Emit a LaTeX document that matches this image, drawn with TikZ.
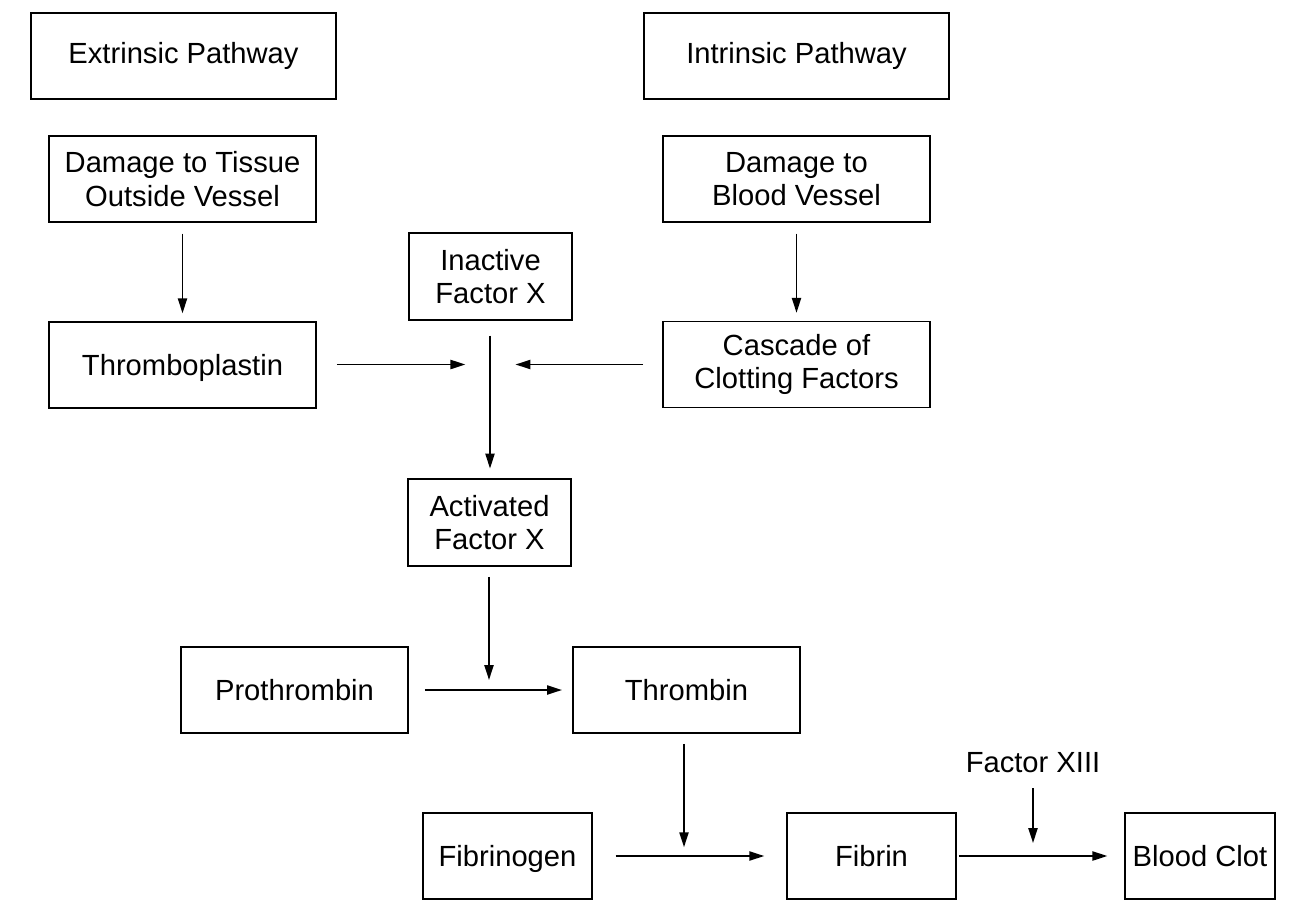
\documentclass[tikz,border=0pt]{standalone}
\usepackage{fontspec}
\setmainfont{Liberation Sans}
\usetikzlibrary{arrows.meta}
\tikzset{
    % Box styles
    stage/.style={
        rectangle,
        draw=black,
        fill=white,
        line width=0.9pt,
        minimum width=5.35cm,
        minimum height=1.72cm,
        align=center,
        font=\fontsize{16.6}{19}\selectfont
    },
    header/.style={
        stage,
        minimum width=6.1cm
    },
    factor/.style={
        stage,
        minimum width=3.25cm,
        minimum height=1.74cm
    },
    product/.style={
        stage,
        minimum width=4.55cm
    },
    small/.style={
        stage,
        minimum width=3.38cm
    },
    label/.style={
        font=\fontsize{16.6}{19}\selectfont
    },
    % Arrow style
    arrow/.style={
        -{Triangle[length=8.5pt,width=5.2pt]},
        line width=1pt,
        draw=black
    }
}
\begin{document}
\begin{tikzpicture}[x=0.02cm, y=-0.02cm]
    \useasboundingbox (0,0) rectangle (1314,916);

    % Pathways
    \node[header] (ext) at (183.5,56) {Extrinsic Pathway};
    \node[header] (int) at (796.5,56) {Intrinsic Pathway};

    \node[stage] (tissue) at (182.5,179) {Damage to Tissue\\Outside Vessel};
    \node[stage] (vessel) at (796.5,179) {Damage to\\Blood Vessel};

    \node[stage, text depth=0pt] (thrombo) at (182.5,365) {Thromboplastin};
    \node[stage] (cascade) at (796.5,364.5) {Cascade of\\Clotting Factors};

    % Factor X
    \node[factor] (inactive) at (490.5,276.5) {Inactive\\Factor X};
    \node[factor] (activated) at (489.5,522.5) {Activated\\Factor X};
    \coordinate (jx) at (490,364.5);

    % Thrombin
    \node[product] (prothrombin) at (294.5,690) {Prothrombin};
    \node[product] (thrombin) at (686.5,690) {Thrombin};
    \coordinate (jt) at (489,690);

    % Fibrin and clot
    \node[small, text depth=0pt] (fibrinogen) at (507.5,856) {Fibrinogen};
    \node[small] (fibrin) at (871.5,856) {Fibrin};
    \node[stage, minimum width=3cm] (clot) at (1200,856) {Blood Clot};
    \node[label] (xiii) at (1033,763) {Factor XIII};
    \coordinate (jf) at (684,856);
    \coordinate (jc) at (1033,856);

    % Arrows
    \draw[arrow, shorten <=6.2pt, shorten >=4.5pt] (tissue) -- (thrombo);
    \draw[arrow, shorten <=6.2pt, shorten >=4.5pt] (vessel) -- (cascade);
    \draw[arrow, shorten <=11.3pt, shorten >=14pt] (thrombo.east |- jx) -- (jx);
    \draw[arrow, shorten <=10.8pt, shorten >=14.5pt] (cascade.west |- jx) -- (jx);
    \draw[arrow, shorten <=8.5pt, shorten >=5.5pt] (inactive.south -| jx) -- (activated.north -| jx);
    \draw[arrow, shorten <=5.7pt, shorten >=5.7pt] (activated.south -| jt) -- (jt);
    \draw[arrow, shorten <=9pt, shorten >=5.7pt] (prothrombin) -- (thrombin);
    \draw[arrow, shorten <=5.7pt, shorten >=5pt] (thrombin.south -| jf) -- (jf);
    \draw[arrow, shorten <=13pt, shorten >=12.5pt] (fibrinogen) -- (fibrin);
    \draw[arrow, shorten <=5pt, shorten >=7.4pt] (xiii) -- (jc);
    \draw[arrow, shorten <=1.2pt, shorten >=9.6pt] (fibrin) -- (clot);
\end{tikzpicture}
\end{document}
